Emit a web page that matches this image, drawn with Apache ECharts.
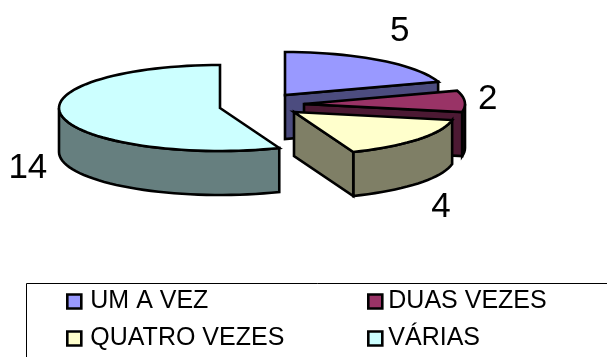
<!DOCTYPE html>
<html><head><meta charset="utf-8">
<style>html,body{margin:0;padding:0;background:#fff}#c{width:607px;height:357px}</style>
<script src="https://cdn.jsdelivr.net/npm/echarts@6/dist/echarts.min.js"></script>
</head><body><div id="c"></div>
<script>
const categories = ['UM A VEZ', 'DUAS VEZES', 'QUATRO VEZES', 'VÁRIAS'];
const values = [5, 2, 4, 14];
const topColors = ['#9999FF', '#993366', '#FFFFCC', '#CCFFFF'];
const wallColors = ['#4C4C7F', '#4C1933', '#7F7F66', '#667F7F'];
const centers = [[285, 95], [304, 104], [294, 112], [220, 108]];
const labelNudge = [[20, -51], [23, -24], [23, 46], [-34, 30]];
const RX = 161, RY = 43, DEPTH = 44;
const total = values.reduce((a, b) => a + b, 0);
const rad = d => d * Math.PI / 180;

function renderSlice(idx, params, api) {
  const v = api.value(0);
  let start = 0;
  for (let i = 0; i < idx; i++) start += values[i] / total * 360;
  const end = start + v / total * 360;
  const [cx, cy] = centers[idx];
  const pt = (a, d) => [cx + RX * Math.sin(rad(a)), cy - RY * Math.cos(rad(a)) + (d || 0)];
  const arc = (a, b, d) => {
    const n = Math.max(2, Math.ceil((b - a) / 3)); const out = [];
    for (let i = 0; i <= n; i++) out.push(pt(a + (b - a) * i / n, d));
    return out;
  };
  const style = fill => ({ fill, stroke: '#000', lineWidth: 2.6, lineJoin: 'miter' });
  const poly = (points, fill) => ({ type: 'polygon', shape: { points }, style: style(fill) });
  const children = [];
  const wall = wallColors[idx];
  const apex = [cx, cy], apexB = [cx, cy + DEPTH];
  if (Math.sin(rad(start)) < -1e-6) children.push(poly([apex, pt(start), pt(start, DEPTH), apexB], wall));
  const a0 = Math.max(start, 90), b0 = Math.min(end, 270);
  if (b0 > a0) children.push(poly(arc(a0, b0, 0).concat(arc(a0, b0, DEPTH).reverse()), wall));
  if (Math.sin(rad(end)) > 1e-6) children.push(poly([apex, pt(end), pt(end, DEPTH), apexB], wall));
  children.push(poly([apex].concat(arc(start, end, 0)), topColors[idx]));
  const mid = pt((start + end) / 2, DEPTH / 2);
  children.push({
    type: 'text',
    style: {
      text: String(v), x: mid[0] + labelNudge[idx][0], y: mid[1] + labelNudge[idx][1],
      fill: '#000', font: '35px "Liberation Sans", Arial, sans-serif', align: 'center', verticalAlign: 'middle'
    }
  });
  return { type: 'group', children };
}

const legendText = pad => ({ fontFamily: '"Liberation Sans", Arial, sans-serif', fontSize: 25, color: '#000', padding: [0, 0, 0, pad], lineHeight: 27 });
const legendBase = {
  orient: 'vertical', itemGap: 10, itemWidth: 14, itemHeight: 14, icon: 'rect',
  itemStyle: { borderColor: '#000', borderWidth: 2.6 }, selectedMode: false, padding: 0
};
const chart = echarts.init(document.getElementById('c'), null, { renderer: 'canvas' });
chart.setOption({
  animation: false,
  backgroundColor: '#fff',
  legend: [
    Object.assign({}, legendBase, { left: 66, top: 288, textStyle: legendText(4), data: [categories[0], categories[2]] }),
    Object.assign({}, legendBase, { left: 367, top: 288, textStyle: legendText(1), data: [categories[1], categories[3]] })
  ],
  graphic: [{ type: 'rect', z: -1, shape: { x: 26.5, y: 283.5, width: 620, height: 100 }, style: { fill: '#fff', stroke: '#000', lineWidth: 1 } }],
  series: categories.map((name, i) => ({
    type: 'custom', name, coordinateSystem: 'none',
    itemStyle: { color: topColors[i] },
    z: 2 + i,
    data: [[values[i]]],
    renderItem: (p, api) => renderSlice(i, p, api)
  }))
});
</script></body></html>
